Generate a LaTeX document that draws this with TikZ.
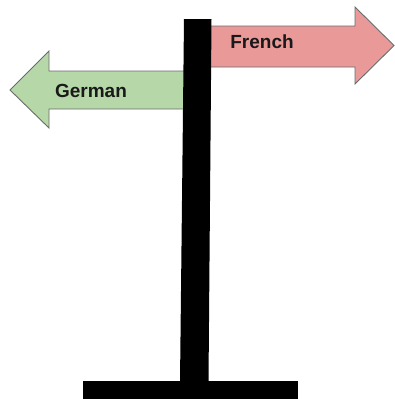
\documentclass[tikz,border=0pt]{standalone}
\usepackage{fontspec}
\setmainfont{Liberation Sans}
\definecolor{signgreen}{HTML}{B6D7A8}
\definecolor{signred}{HTML}{EA9999}
\definecolor{signedge}{HTML}{6B6B6B}
\begin{document}
\begin{tikzpicture}[x=1pt,y=-1pt,
  sign/.style={draw=signedge,line width=0.9pt,line join=miter},
  label/.style={font=\fontsize{19}{22}\selectfont\bfseries,text=black!90,inner sep=0pt}]
\useasboundingbox (0,0) rectangle (395,399);
% left-pointing sign
\path[sign,fill=signgreen] (186,71) -- (49,71) -- (49,51) -- (10,90) -- (49,128) -- (49,109) -- (186,109) -- cycle;
\node[label] (german) at (91,91) {German};
% right-pointing sign
\path[sign,fill=signred] (208,26) -- (355,26) -- (355,7) -- (394,45.5) -- (355,84) -- (355,67) -- (208,67) -- cycle;
\node[label] (french) at (262,42) {French};
% post and foot
\fill[black] (184,19) -- (211.5,19) -- (208.5,382) -- (180,382) -- cycle;
\fill[black] (83,381) rectangle (298,399);
\end{tikzpicture}
\end{document}
